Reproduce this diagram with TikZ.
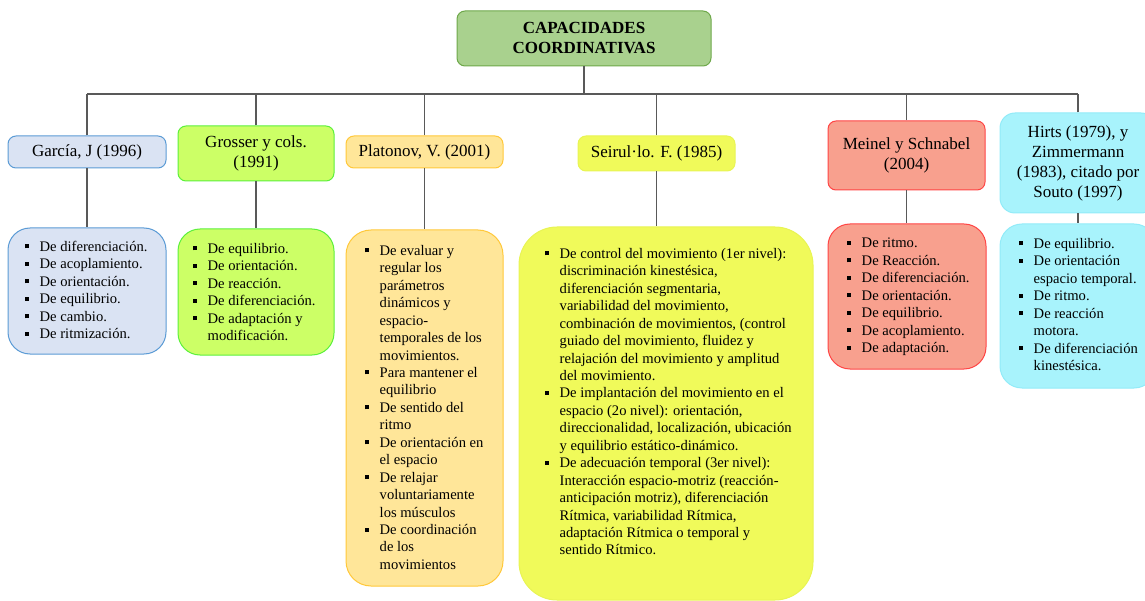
\documentclass[tikz,border=0pt]{standalone}
\usepackage{fontspec}
\setmainfont{Liberation Serif}
\usetikzlibrary{positioning,calc}
\definecolor{titlefill}{HTML}{A9D18E}
\definecolor{titledraw}{HTML}{6EA84A}
\definecolor{garciafill}{HTML}{DAE3F3}
\definecolor{garciadraw}{HTML}{5B9BD5}
\definecolor{grosserfill}{HTML}{CCFF66}
\definecolor{grosserdraw}{HTML}{5CF03C}
\definecolor{platonovfill}{HTML}{FFE699}
\definecolor{platonovdraw}{HTML}{FFC83A}
\definecolor{seirullofill}{HTML}{F0FA5A}
\definecolor{seirullodraw}{HTML}{E8F454}
\definecolor{meinelfill}{HTML}{F8A08E}
\definecolor{meineldraw}{HTML}{FF4545}
\definecolor{hirtsfill}{HTML}{A8F3FC}
\definecolor{hirtsdraw}{HTML}{92EBF8}
\definecolor{linkgray}{HTML}{595959}
\newcommand{\itembul}{\makebox[14.5pt][l]{\rule[3pt]{4pt}{4pt}}}
\newcommand{\itemind}{\makebox[14.5pt]{}}

\begin{document}
\begin{tikzpicture}[
    x=1pt, y=-1pt,
    header/.style={rectangle, rounded corners=8pt, line width=1pt, inner sep=0pt,
                   align=center, font=\fontsize{17}{20}\selectfont},
    listbox/.style={rectangle, rounded corners=22pt, line width=1pt, inner sep=0pt},
    listtext/.style={anchor=north west, inner sep=0pt, align=left,
                     font=\fontsize{14.6}{17.45}\selectfont},
    link/.style={draw=linkgray, line width=1.3pt}
]
    \useasboundingbox (0,0) rectangle (1145,601);

    % Title
    \node[header, fill=titlefill, draw=titledraw, minimum width=254pt, minimum height=55pt,
          font=\fontsize{17}{20}\selectfont\bfseries] (title) at (584,38.5)
          {CAPACIDADES\\COORDINATIVAS};

    % Authors
    \node[header, fill=garciafill, draw=garciadraw, minimum width=158pt, minimum height=32pt]
          (garcia) at (87,152) {García, J (1996)};
    \node[header, fill=grosserfill, draw=grosserdraw, minimum width=156pt, minimum height=55pt]
          (grosser) at (256,153.5) {Grosser y cols.\\(1991)};
    \node[header, fill=platonovfill, draw=platonovdraw, minimum width=157pt, minimum height=32pt]
          (platonov) at (424.5,152) {Platonov, V. (2001)};
    \node[header, fill=seirullofill, draw=seirullodraw, minimum width=157pt, minimum height=35pt]
          (seirullo) at (656.5,153.5) {Seirul·lo. F. (1985)};
    \node[header, fill=meinelfill, draw=meineldraw, minimum width=157pt, minimum height=69pt]
          (meinel) at (906.5,155.5) {Meinel y Schnabel\\(2004)};
    \node[header, rounded corners=15pt, fill=hirtsfill, draw=hirtsdraw, minimum width=156pt,
          minimum height=100pt] (hirts) at (1078,163)
          {Hirts (1979), y\\Zimmermann\\(1983), citado por\\Souto (1997)};

    % List boxes
    \node[listbox, fill=garciafill, draw=garciadraw, minimum width=158pt, minimum height=126pt]
          (garcialist) at (87,291) {};
    \node[listbox, fill=grosserfill, draw=grosserdraw, minimum width=156pt, minimum height=126pt]
          (grosserlist) at (256,292) {};
    \node[listbox, rounded corners=25pt, fill=platonovfill, draw=platonovdraw, minimum width=157pt,
          minimum height=356pt] (platonovlist) at (424.5,408) {};
    \node[listbox, rounded corners=38pt, fill=seirullofill, draw=seirullodraw, minimum width=294pt,
          minimum height=373pt] (seirullolist) at (666,413.5) {};
    \node[listbox, fill=meinelfill, draw=meineldraw, minimum width=158pt, minimum height=145pt]
          (meinellist) at (907,296.5) {};
    \node[listbox, fill=hirtsfill, draw=hirtsdraw, minimum width=156pt, minimum height=164pt]
          (hirtslist) at (1078,306) {};

    % List texts
    \node[listtext] (garciatext) at (25,241) {%
        \itembul De diferenciación.\\
        \itembul De acoplamiento.\\
        \itembul De orientación.\\
        \itembul De equilibrio.\\
        \itembul De cambio.\\
        \itembul De ritmización.};
    \node[listtext] (grossertext) at (193,243) {%
        \itembul De equilibrio.\\
        \itembul De orientación.\\
        \itembul De reacción.\\
        \itembul De diferenciación.\\
        \itembul De adaptación y\\
        \itemind modificación.};
    \node[listtext] (platonovtext) at (365,245) {%
        \itembul De evaluar y\\
        \itemind regular los\\
        \itemind parámetros\\
        \itemind dinámicos y\\
        \itemind espacio-\\
        \itemind temporales de los\\
        \itemind movimientos.\\
        \itembul Para mantener el\\
        \itemind equilibrio\\
        \itembul De sentido del\\
        \itemind ritmo\\
        \itembul De orientación en\\
        \itemind el espacio\\
        \itembul De relajar\\
        \itemind voluntariamente\\
        \itemind los músculos\\
        \itembul De coordinación\\
        \itemind de los\\
        \itemind movimientos};
    \node[listtext] (seirullotext) at (545,248) {%
        \itembul De control del movimiento (1er nivel):\\
        \itemind discriminación kinestésica,\\
        \itemind diferenciación segmentaria,\\
        \itemind variabilidad del movimiento,\\
        \itemind combinación de movimientos, (control\\
        \itemind guiado del movimiento, fluidez y\\
        \itemind relajación del movimiento y amplitud\\
        \itemind del movimiento.\\
        \itembul De implantación del movimiento en el\\
        \itemind espacio (2o nivel): orientación,\\
        \itemind direccionalidad, localización, ubicación\\
        \itemind y equilibrio estático-dinámico.\\
        \itembul De adecuación temporal (3er nivel):\\
        \itemind Interacción espacio-motriz (reacción-\\
        \itemind anticipación motriz), diferenciación\\
        \itemind Rítmica, variabilidad Rítmica,\\
        \itemind adaptación Rítmica o temporal y\\
        \itemind sentido Rítmico.};
    \node[listtext] (meineltext) at (847,238) {%
        \itembul De ritmo.\\
        \itembul De Reacción.\\
        \itembul De diferenciación.\\
        \itembul De orientación.\\
        \itembul De equilibrio.\\
        \itembul De acoplamiento.\\
        \itembul De adaptación.};
    \node[listtext] (hirtstext) at (1019,238) {%
        \itembul De equilibrio.\\
        \itembul De orientación\\
        \itemind espacio temporal.\\
        \itembul De ritmo.\\
        \itembul De reacción\\
        \itemind motora.\\
        \itembul De diferenciación\\
        \itemind kinestésica.};

    % Connections
    \coordinate (bar) at (584,94);
    \draw[link] (garcia.north |- bar) -- (hirts.north |- bar);
    \draw[link] (title.south) -- (bar);
    \foreach \who in {garcia,grosser,platonov,seirullo,meinel,hirts} {
        \draw[link] (\who.north) -- (\who.north |- bar);
        \draw[link] (\who.south) -- (\who.south |- \who list.north);
    }
\end{tikzpicture}
\end{document}
